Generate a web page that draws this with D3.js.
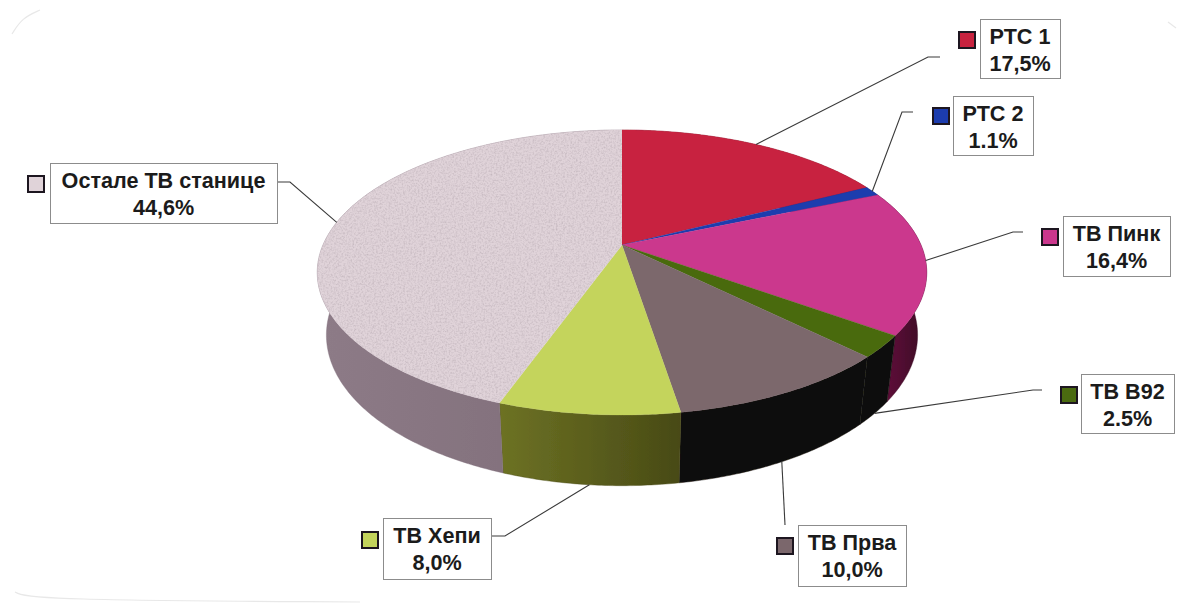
<!DOCTYPE html>
<html>
<head>
<meta charset="utf-8">
<script src="https://cdn.jsdelivr.net/npm/d3@7/dist/d3.min.js"></script>
<style>
html,body{margin:0;padding:0;background:#fff;}
svg{display:block;}
text{font-family:"Liberation Sans",Arial,sans-serif;font-weight:700;font-size:21.6px;fill:#1b1b1b;text-anchor:middle;}
</style>
</head>
<body>
<svg id="c" width="1186" height="603"></svg>
<script>
// Data
const categories = ["РТС 1","РТС 2","ТВ Пинк","ТВ В92","ТВ Прва","ТВ Хепи","Остале ТВ станице"];
const values = [17.5,1.1,16.4,2.5,10.0,8.0,44.6];
const valueLabels = ["17,5%","1.1%","16,4%","2.5%","10,0%","8,0%","44,6%"];

// Styles
const topColors  = ["#c8223f","#1c3cae","#cb378d","#4a6a10","#7b676c","#c4d45c","#e0d3d9"];
const sideStart  = ["#7a1428","#101f66","#6e1042","#0e0b08","#0e0b08","#6d7224","#8d7b87"];
const sideEnd    = ["#7a1428","#101f66","#3a0a24","#0e0b08","#0e0b08","#484a15","#7e6c78"];

// Layout of the callouts: box [x,y,w,h], swatch [x,y], elbow and end of leader
const boxes   = [[980,19,80,59],[953,96,80,59],[1063,216,107,60],[1081,374,93,59],[798,525,108,61],[383,518,108,61],[50,163,227,60]];
const swatch  = [[958,31],[932,107],[1041,228],[1060,386],[776,537],[361,531],[27,175]];
const elbows  = [[928,57,940,57],[902,112,913,112],[1013,232,1023,232],[1033,390,1042,390],[785,525,785,525],[505,536,491,536],[290,182,277,182]];
const leaderOnBase = [false,false,false,true,true,true,false];

// Projection of the disc: a circle seen in perspective
const cx = 622, cyTop = 245, Rx = 299, Ry = 137.2, persp = 0.193;
const cyBase = 306, RyBase = 145, baseScale = 0.97;
const sx = d3.scaleLinear().domain([-1,1]).range([-Rx,Rx]);
const sy = d3.scaleLinear().domain([-1,1]).range([Ry,-Ry]);
const syBase = d3.scaleLinear().domain([-1,1]).range([RyBase,-RyBase]);
function project(a, base){
  const u = Math.sin(a), v = Math.cos(a), s = 1/(1+persp*v);
  return base ? [cx + sx(u)*s*baseScale, cyBase + syBase(v)*s]
              : [cx + sx(u)*s, cyTop + sy(v)*s];
}
function arcPts(a0,a1,base){
  const n = Math.max(2,Math.ceil((a1-a0)/0.01));
  return d3.range(n+1).map(i=>project(a0+(a1-a0)*i/n,base));
}

const arcs = d3.pie().sort(null).value(d=>d).startAngle(0).endAngle(2*Math.PI)(values);
const line = d3.line();
const svg = d3.select("#c");
const defs = svg.append("defs");

const soft = defs.append("filter").attr("id","soft").attr("x","-2%").attr("y","-2%").attr("width","104%").attr("height","104%");
soft.append("feGaussianBlur").attr("stdDeviation",0.45);

const grain = defs.append("filter").attr("id","grain").attr("x",0).attr("y",0).attr("width",1).attr("height",1);
grain.append("feTurbulence").attr("type","fractalNoise").attr("baseFrequency",0.55).attr("numOctaves",3).attr("seed",4).attr("result","n");
grain.append("feColorMatrix").attr("in","n").attr("type","matrix")
  .attr("values","0 0 0 0 0.45  0 0 0 0 0.38  0 0 0 0 0.42  0 0 0 -1.2 0.72").attr("result","t");
grain.append("feComposite").attr("in","t").attr("in2","SourceAlpha").attr("operator","in").attr("result","m");
grain.append("feMerge").selectAll("feMergeNode").data(["SourceGraphic","m"]).join("feMergeNode").attr("in",d=>d);

arcs.forEach((a,i)=>{
  const g = defs.append("linearGradient").attr("id","side"+i).attr("x1",0).attr("x2",1).attr("y1",0).attr("y2",0);
  g.append("stop").attr("offset",0).attr("stop-color",sideStart[i]);
  g.append("stop").attr("offset",1).attr("stop-color",sideEnd[i]);
});

// faint traces of the rounded frame left by the scan
const traces = [[[12,34],[22,18],[40,10]],[[15,592],[32,600],[360,602]],[[1168,22],[1176,28]]];
svg.append("g").selectAll("path").data(traces).join("path")
  .attr("d",d3.line().curve(d3.curveBasis))
  .attr("fill","none").attr("stroke","#e8e8e8").attr("stroke-width",1.2);

const pieG = svg.append("g").attr("filter","url(#soft)");

// sides
pieG.append("g").selectAll("path").data(arcs).join("path")
  .attr("d",d=>line(arcPts(d.startAngle,d.endAngle,false).concat(arcPts(d.startAngle,d.endAngle,true).reverse()))+"Z")
  .attr("fill",(d,i)=>`url(#side${i})`).attr("stroke",(d,i)=>sideEnd[i]).attr("stroke-width",0.4);

// top faces
pieG.append("g").selectAll("path").data(arcs).join("path")
  .attr("d",d=>line([[cx,cyTop]].concat(arcPts(d.startAngle,d.endAngle,false)))+"Z")
  .attr("fill",(d,i)=>topColors[i]).attr("stroke",(d,i)=>topColors[i]).attr("stroke-width",0.3)
  .attr("filter",(d,i)=>i===6?"url(#grain)":null);

// leaders
svg.append("g").selectAll("path").data(arcs).join("path")
  .attr("d",(d,i)=>line([project((d.startAngle+d.endAngle)/2,leaderOnBase[i]),[elbows[i][0],elbows[i][1]],[elbows[i][2],elbows[i][3]]]))
  .attr("fill","none").attr("stroke","#3a3a3a").attr("stroke-width",1.1);

// callouts
const lab = svg.append("g").selectAll("g").data(categories).join("g");
lab.append("rect").attr("x",(d,i)=>boxes[i][0]+.5).attr("y",(d,i)=>boxes[i][1]+.5)
  .attr("width",(d,i)=>boxes[i][2]).attr("height",(d,i)=>boxes[i][3])
  .attr("fill","#fff").attr("stroke","#8c8c8c").attr("stroke-width",1);
lab.append("rect").attr("x",(d,i)=>swatch[i][0]+1).attr("y",(d,i)=>swatch[i][1]+1)
  .attr("width",16).attr("height",16)
  .attr("fill",(d,i)=>topColors[i]).attr("stroke","#1d1620").attr("stroke-width",2);
lab.append("text").attr("x",(d,i)=>boxes[i][0]+boxes[i][2]/2).attr("y",(d,i)=>boxes[i][1]+25).text(d=>d);
lab.append("text").attr("x",(d,i)=>boxes[i][0]+boxes[i][2]/2).attr("y",(d,i)=>boxes[i][1]+52).text((d,i)=>valueLabels[i]);
</script>
</body>
</html>
